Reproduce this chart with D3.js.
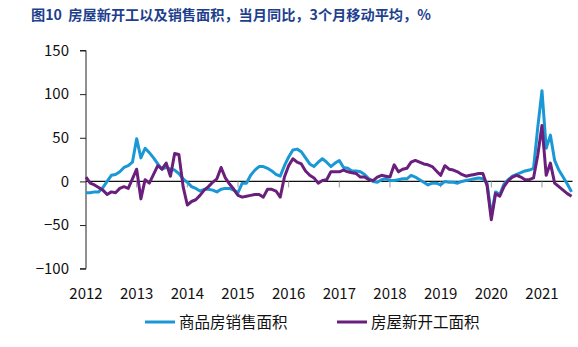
<!DOCTYPE html>
<html><head><meta charset="utf-8">
<script src="https://cdn.jsdelivr.net/npm/d3@7"></script>
<style>
body{margin:0;background:#fff;}
svg{display:block;font-family:"Noto Sans CJK SC","Noto Sans",sans-serif;}
</style></head><body>
<svg id="c" width="578" height="347"></svg>
<script>
const title = "图10  房屋新开工以及销售面积，当月同比，3个月移动平均，%";
const startYear = 2012;
const yearLabels = ["2012","2013","2014","2015","2016","2017","2018","2019","2020","2021"];
const yTicks = [-100,-50,0,50,100,150];
const seriesNames = ["商品房销售面积","房屋新开工面积"];
// monthly, Jan 2012 .. Aug 2021
const sales = [-13,-13,-12,-12,-7,0,7,8,11,16,18,22,
  49,27,38,33,27,20,14,16,14,13,9,3,
  -1,-6,-8,-11,-9,-9,-10,-12,-9,-8,-8,-10,
  -13,-2,-2,7,13,17,17,15,12,8,6,18,
  28,36,37,34,27,20,17,22,26,22,17,21,
  24,16,15,12,12,11,8,3,0,-1,2,3,
  1,1,2,3,3,7,5,2,-1,-4,-2,-2,
  -4,0,-1,-1,-2,0,1,2,3,4,3,-2,
  -39,-12,-15,-3,2,6,8,10,12,13,15,62,
  104,38,53,24,13,5,-3,-12];
const starts = [5,-2,-4,-7,-10,-15,-12,-13,-8,-6,-8,3,
  14,-20,2,-2,8,18,14,21,6,32,31,-6,
  -27,-23,-21,-16,-10,-6,-1,3,16,4,-3,-9,
  -16,-18,-17,-16,-15,-15,-18,-9,-9,-11,-18,5,
  18,26,22,20,12,7,4,-2,1,2,11,11,
  11,13,11,10,9,5,5,2,1,5,7,6,
  5,19,11,14,15,22,24,22,20,19,17,12,
  7,18,14,13,11,8,6,7,8,9,9,-5,
  -44,-14,-17,-6,1,5,7,5,2,2,4,30,
  64,7,21,-2,-6,-10,-14,-17];
const colors = ["#1a98d5","#6b1f7c"];

const svg = d3.select("#c");
svg.append("text").attr("x",31).attr("y",20)
  .attr("font-size",14.2).attr("font-weight","bold").attr("fill","#1d3f8e")
  .style("white-space","pre")
  .text(title);

const x = d3.scaleLinear().domain([0, 115]).range([86, 86+115*4.222]);
const y = d3.scaleLinear().domain([-100,150]).range([268.7, 50.5]);

// y axis
const yAxis = d3.axisLeft(y).tickValues(yTicks).tickSize(6).tickPadding(11).tickFormat(d3.format("d"));
const gy = svg.append("g").attr("transform","translate(86,0)").call(yAxis);
gy.select(".domain").attr("stroke","#222").attr("d","M-6,"+y(150)+"H0V"+y(-100)+"H-6");
gy.selectAll(".tick line").attr("stroke","#222");
gy.selectAll(".tick text").attr("font-size",15).attr("fill","#111")
  .attr("font-family","'Noto Sans CJK SC','Noto Sans',sans-serif");

// zero line + year ticks
svg.append("line").attr("x1",86).attr("x2",x(115)+1).attr("y1",y(0)).attr("y2",y(0))
  .attr("stroke","#111").attr("stroke-width",1.2);
const yearIdx = yearLabels.map((d,i)=>i*12);
svg.append("g").selectAll("line").data(yearIdx.slice(1)).join("line")
  .attr("x1",d=>x(d)).attr("x2",d=>x(d)).attr("y1",y(0)).attr("y2",y(0)+6)
  .attr("stroke","#999").attr("stroke-width",1);
svg.append("g").selectAll("text").data(yearLabels).join("text")
  .attr("x",(d,i)=>x(yearIdx[i])).attr("y",298.5).attr("text-anchor","middle")
  .attr("font-size",15).attr("fill","#111").text(d=>d);

const line = d3.line().x((d,i)=>x(i)).y(d=>y(d));
[sales, starts].forEach((s,k)=>{
  svg.append("path").datum(s).attr("d",line).attr("fill","none")
    .attr("stroke",colors[k]).attr("stroke-width",3).attr("stroke-linejoin","round");
});

// legend
const leg = [{x:145},{x:337}];
leg.forEach((l,k)=>{
  svg.append("line").attr("x1",l.x).attr("x2",l.x+30).attr("y1",322).attr("y2",322)
    .attr("stroke",colors[k]).attr("stroke-width",3);
  svg.append("text").attr("x",l.x+34).attr("y",327.5).attr("font-size",15.5)
    .attr("fill","#111").text(seriesNames[k]);
});
</script>
</body></html>
